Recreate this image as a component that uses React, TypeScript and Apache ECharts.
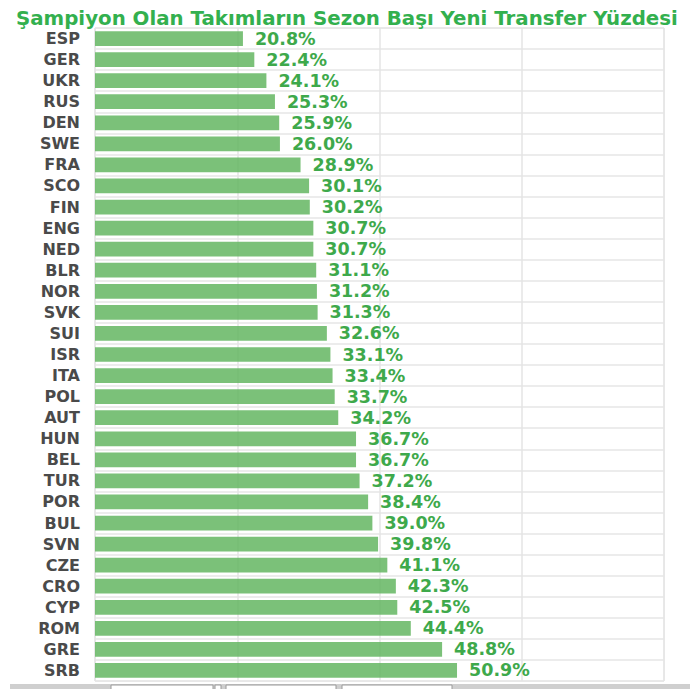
import React, { useEffect, useRef } from "react";
import * as echarts from "echarts";

const titleText = "Şampiyon Olan Takımların Sezon Başı Yeni Transfer Yüzdesi";
const countries = [
  "ESP", "GER", "UKR", "RUS", "DEN", "SWE", "FRA", "SCO", "FIN", "ENG", "NED",
  "BLR", "NOR", "SVK", "SUI", "ISR", "ITA", "POL", "AUT", "HUN", "BEL", "TUR",
  "POR", "BUL", "SVN", "CZE", "CRO", "CYP", "ROM", "GRE", "SRB",
];
const percentages = [
  20.8, 22.4, 24.1, 25.3, 25.9, 26.0, 28.9, 30.1, 30.2, 30.7, 30.7,
  31.1, 31.2, 31.3, 32.6, 33.1, 33.4, 33.7, 34.2, 36.7, 36.7, 37.2,
  38.4, 39.0, 39.8, 41.1, 42.3, 42.5, 44.4, 48.8, 50.9,
];

export default function App() {
  const ref = useRef<HTMLDivElement>(null);
  useEffect(() => {
    if (!ref.current) return;
    const chart = echarts.init(ref.current, undefined, { renderer: "svg" });
    chart.setOption({
      animation: false,
      backgroundColor: "#ffffff",
      title: {
        text: titleText,
        left: 11,
        top: 3,
        textStyle: {
          color: "#33b04e",
          fontFamily: "DejaVu Sans",
          fontWeight: "bold",
          fontSize: 19.8,
        },
      },
      grid: {
        left: 95,
        right: 26,
        top: 28,
        bottom: 8,
        show: true,
        borderColor: "#e2e2e2",
        borderWidth: 1,
      },
      xAxis: {
        type: "value",
        min: 0,
        max: 80,
        interval: 20,
        axisLabel: { show: false },
        axisLine: { show: false },
        axisTick: { show: false },
        splitLine: { lineStyle: { color: "#e4e4e4", width: 1.5 } },
      },
      yAxis: {
        type: "category",
        inverse: true,
        data: countries,
        axisLine: { show: false },
        axisTick: { show: false },
        axisLabel: {
          margin: 15,
          color: "#4a4a4a",
          fontFamily: "DejaVu Sans",
          fontWeight: "bold",
          fontSize: 16,
        },
        splitLine: { show: true, lineStyle: { color: "#e6e6e6", width: 1.5 } },
      },
      series: [
        {
          type: "bar",
          data: percentages,
          barCategoryGap: "30%",
          itemStyle: { color: "rgba(100,182,98,0.85)" },
          label: {
            show: true,
            position: "right",
            distance: 12,
            formatter: (p: any) => p.value.toFixed(1) + "%",
            color: "#3ea94b",
            fontFamily: "DejaVu Sans",
            fontWeight: "bold",
            fontSize: 17.5,
          },
        },
      ],
      graphic: [
        { type: "rect", shape: { x: 10, y: 684, width: 680, height: 6 }, style: { fill: "#cfcfcf" } },
        { type: "rect", shape: { x: 111, y: 685, width: 102, height: 6 }, style: { fill: "#ffffff", stroke: "#9a9a9a", lineWidth: 1 } },
        { type: "rect", shape: { x: 215, y: 685, width: 6, height: 6 }, style: { fill: "#ffffff", stroke: "#9a9a9a", lineWidth: 1 } },
        { type: "rect", shape: { x: 226, y: 685, width: 110, height: 6 }, style: { fill: "#ffffff", stroke: "#9a9a9a", lineWidth: 1 } },
        { type: "rect", shape: { x: 342, y: 685, width: 110, height: 6 }, style: { fill: "#ffffff", stroke: "#9a9a9a", lineWidth: 1 } },
      ],
    });
    return () => chart.dispose();
  }, []);
  return <div ref={ref} style={{ width: 690, height: 689, position: "fixed", left: 0, top: 0 }} />;
}
